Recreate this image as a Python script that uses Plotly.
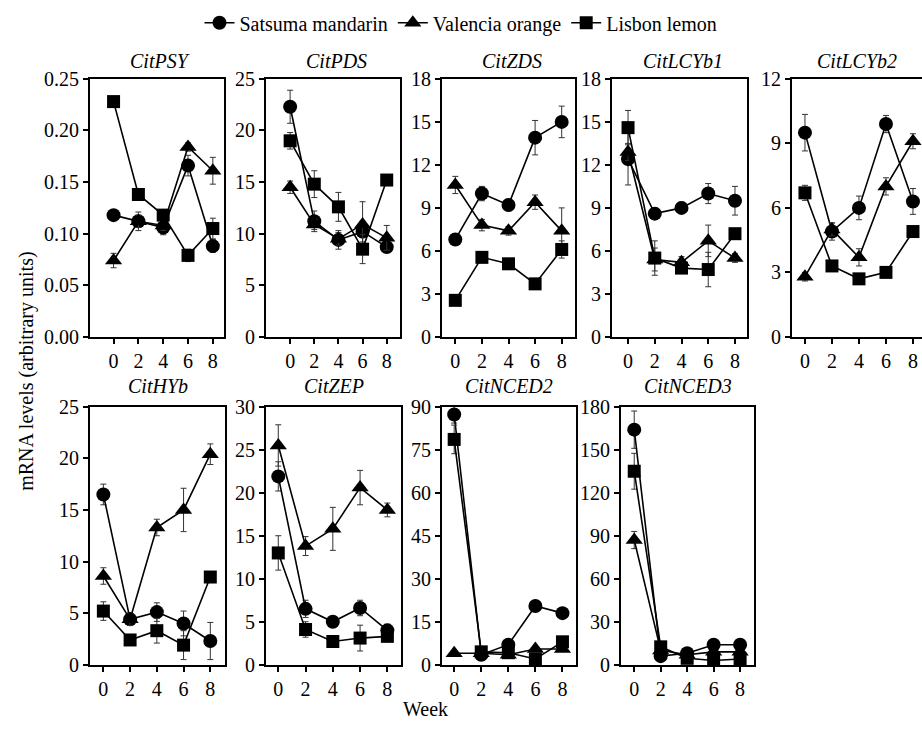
import plotly.graph_objects as go

# Sampling weeks after harvest
weeks = [0, 2, 4, 6, 8]

genes = ["CitPSY", "CitPDS", "CitZDS", "CitLCYb1", "CitLCYb2",
         "CitHYb", "CitZEP", "CitNCED2", "CitNCED3"]

# mRNA levels (arbitrary units), one row per gene
satsuma = [
    [0.118, 0.112, 0.106, 0.166, 0.088],
    [22.3, 11.2, 9.4, 10.2, 8.7],
    [6.8, 10.0, 9.2, 13.9, 15.0],
    [12.4, 8.6, 9.0, 10.0, 9.5],
    [9.5, 4.9, 6.0, 9.9, 6.3],
    [16.5, 4.4, 5.1, 4.0, 2.3],
    [21.9, 6.5, 5.0, 6.6, 4.0],
    [87.3, 3.5, 7.0, 20.5, 18.0],
    [164, 6, 8, 14, 14],
]
satsuma_err = [
    [0.004, 0.009, 0.007, 0.010, 0.006],
    [1.6, 1.0, 0.9, 1.0, 0.5],
    [0.3, 0.5, 0.4, 1.2, 1.1],
    [1.8, 0.4, 0.4, 0.7, 1.0],
    [0.85, 0.4, 0.55, 0.4, 0.6],
    [1.0, 0.6, 0.9, 1.2, 1.8],
    [1.7, 1.0, 0.5, 0.9, 0.7],
    [3, 1, 1, 1.5, 1],
    [13, 1, 1, 1.5, 1.5],
]

valencia = [
    [0.074, 0.112, 0.108, 0.184, 0.161],
    [14.5, 10.9, 9.5, 10.9, 9.6],
    [10.6, 7.8, 7.4, 9.4, 7.4],
    [12.9, 5.4, 5.2, 6.7, 5.5],
    [2.8, 5.0, 3.7, 7.0, 9.1],
    [8.6, 4.4, 13.3, 15.0, 20.4],
    [25.5, 13.8, 15.8, 20.6, 18.0],
    [4.0, 4.0, 3.5, 5.5, 5.5],
    [87, 10, 7, 9, 9],
]
valencia_err = [
    [0.007, 0.006, 0.005, 0.004, 0.013],
    [0.6, 0.5, 0.6, 2.2, 1.2],
    [0.6, 0.4, 0.3, 0.5, 1.6],
    [0.6, 0.8, 0.4, 1.1, 0.3],
    [0.2, 0.3, 0.4, 0.4, 0.35],
    [0.8, 0.6, 0.8, 2.1, 1.0],
    [2.4, 1.1, 2.5, 2.0, 0.8],
    [0.5, 0.5, 0.5, 0.5, 0.5],
    [6, 1, 1, 1, 1],
]

lisbon = [
    [0.228, 0.138, 0.118, 0.079, 0.105],
    [19.0, 14.8, 12.6, 8.5, 15.2],
    [2.55, 5.55, 5.1, 3.7, 6.1],
    [14.6, 5.5, 4.8, 4.7, 7.2],
    [6.7, 3.3, 2.7, 3.0, 4.9],
    [5.2, 2.4, 3.3, 1.9, 8.5],
    [13.0, 4.1, 2.7, 3.1, 3.3],
    [78.6, 4.5, 4.2, 2.0, 8.0],
    [135, 12.5, 4.5, 3, 4],
]
lisbon_err = [
    [0.003, 0.004, 0.004, 0.006, 0.010],
    [0.8, 1.3, 1.4, 1.4, 0.4],
    [0.2, 0.2, 0.2, 0.2, 0.6],
    [1.2, 1.2, 0.3, 1.2, 0.3],
    [0.35, 0.2, 0.15, 0.15, 0.2],
    [0.9, 0.5, 1.2, 1.4, 0.4],
    [2.0, 0.9, 0.3, 1.5, 0.4],
    [5, 0.5, 0.5, 0.5, 0.5],
    [12.5, 1, 1, 1, 1],
]

# y-axis extent and tick step for each gene
y_max = [0.25, 25, 18, 18, 12, 25, 30, 90, 180]
y_step = [0.05, 5, 3, 3, 3, 5, 5, 15, 30]

series = [
    ("Satsuma mandarin", satsuma, satsuma_err, "circle", 14),
    ("Valencia orange", valencia, valencia_err, "triangle-up", 15),
    ("Lisbon lemon", lisbon, lisbon_err, "square", 13),
]

W, H = 922, 732
FONT = "Liberation Serif"
FS = 20

# panel boxes in pixels: left, right, top, bottom, plus x-range
ROW1 = (70, 336)
ROW2 = (408, 674)
panels = [
    (90, 224, ROW1, [-1.9, 8.9]),
    (266, 400, ROW1, [-2.0, 9.1]),
    (442, 575, ROW1, [-1.0, 9.0]),
    (612, 747, ROW1, [-1.2, 8.9]),
    (792, 922, ROW1, [-0.96, 8.67]),
    (90, 225, ROW2, [-1.0, 9.1]),
    (266, 401, ROW2, [-0.9, 9.0]),
    (442, 576, ROW2, [-0.9, 9.0]),
    (621, 754, ROW2, [-1.0, 9.05]),
]

fig = go.Figure()
annotations = []

for i, gene in enumerate(genes):
    n = i + 1
    xa = "x" if n == 1 else f"x{n}"
    ya = "y" if n == 1 else f"y{n}"
    left, right, (top, bottom), xr = panels[i]

    for name, vals, errs, sym, size in series:
        fig.add_trace(go.Scatter(
            x=weeks, y=vals[i], xaxis=xa, yaxis=ya,
            name=name, legendgroup=name, showlegend=(i == 0),
            mode="lines+markers",
            line=dict(color="black", width=1.6),
            marker=dict(symbol=sym, size=size, color="black"),
            error_y=dict(type="data", array=errs[i], visible=True,
                         color="#333333", thickness=1, width=3),
            cliponaxis=False,
        ))

    is_edge = (n == 5)
    fig.layout[f"xaxis{'' if n == 1 else n}"] = dict(
        domain=[left / W, right / W], anchor=ya, range=xr,
        tickmode="array", tickvals=weeks, ticktext=[str(w) for w in weeks],
        ticks="outside", ticklen=5, tickwidth=1.5, tickcolor="black",
        showline=True, linecolor="black", linewidth=2, mirror=True,
        showgrid=False, zeroline=False,
        tickfont=dict(family=FONT, size=FS, color="black"),
    )
    fmt = ".2f" if y_step[i] < 1 else "d"
    fig.layout[f"yaxis{'' if n == 1 else n}"] = dict(
        domain=[1 - bottom / H, 1 - top / H], anchor=xa,
        range=[0, y_max[i]], dtick=y_step[i], tick0=0, tickformat=fmt,
        ticks="outside", ticklen=5, tickwidth=1.5, tickcolor="black",
        showline=True, linecolor="black", linewidth=2,
        mirror=False if is_edge else True,
        showgrid=False, zeroline=False,
        tickfont=dict(family=FONT, size=FS, color="black"),
    )
    gap = 18 if n <= 5 else 21
    annotations.append(dict(
        text=f"<i>{gene}</i>", xref="paper", yref="paper",
        x=(left + right) / 2 / W + (3 / W if n <= 4 else 0),
        y=1 - (top - gap) / H, xanchor="center", yanchor="middle",
        showarrow=False, font=dict(family=FONT, size=FS, color="black"),
    ))

annotations.append(dict(
    text="mRNA levels (arbitrary units)", xref="paper", yref="paper",
    x=27 / W, y=1 - 372 / H, textangle=-90, xanchor="center",
    yanchor="middle", showarrow=False,
    font=dict(family=FONT, size=FS, color="black"),
))
annotations.append(dict(
    text="Week", xref="paper", yref="paper",
    x=425 / W, y=1 - 720 / H, xanchor="center", yanchor="middle",
    showarrow=False, font=dict(family=FONT, size=FS, color="black"),
))

fig.update_layout(
    width=W, height=H,
    margin=dict(l=0, r=0, t=0, b=0),
    font=dict(family=FONT, size=FS, color="black"),
    paper_bgcolor="white", plot_bgcolor="white",
    annotations=annotations,
    showlegend=True,
    legend=dict(
        orientation="h", x=0.5, xanchor="center", y=1.011, yanchor="top",
        font=dict(family=FONT, size=FS, color="black"),
        bgcolor="rgba(0,0,0,0)", itemwidth=30, tracegroupgap=0,
    ),
)

fig.write_html("out.html")
